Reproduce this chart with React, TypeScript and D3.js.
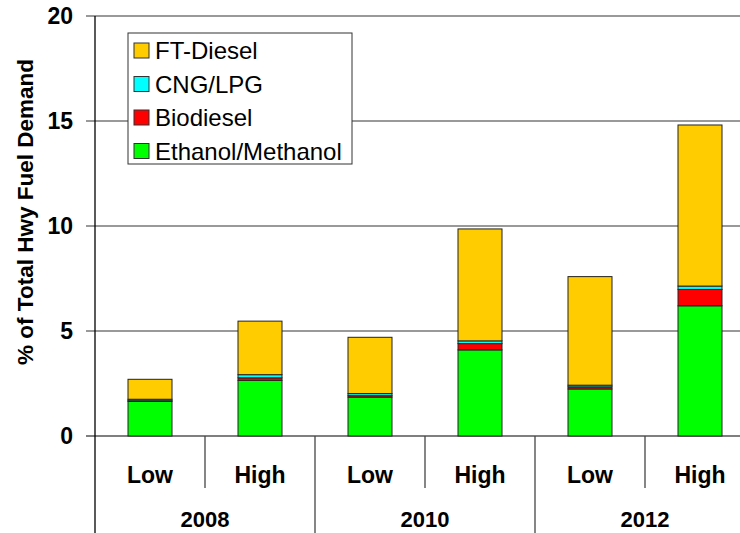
import React from "react";
import * as d3 from "d3";

const years = ["2008", "2010", "2012"];
const scenarios = ["Low", "High"];
const categories = ["2008 Low", "2008 High", "2010 Low", "2010 High", "2012 Low", "2012 High"];
const seriesNames = ["Ethanol/Methanol", "Biodiesel", "CNG/LPG", "FT-Diesel"];
const ethanol = [1.65, 2.65, 1.85, 4.1, 2.24, 6.2];
const biodiesel = [0.03, 0.12, 0.07, 0.3, 0.1, 0.78];
const cng = [0.07, 0.15, 0.1, 0.13, 0.08, 0.16];
const ftDiesel = [0.95, 2.55, 2.68, 5.33, 5.17, 7.67];
const colors = ["#00FF00", "#FF0000", "#00FFFF", "#FFCC00"];
const yTicks = [0, 5, 10, 15, 20];
const legendOrder = [3, 2, 1, 0];

export default function App() {
  const W = 740, H = 533;
  const left = 95, top = 16, bottom = 436;
  const x = d3.scaleBand<string>().domain(categories).range([left, left + 660]).paddingInner(0.6).paddingOuter(0.3);
  const y = d3.scaleLinear().domain([0, 20]).range([bottom, top]);
  const rows = categories.map((c, i) => ({ cat: c, e: ethanol[i], b: biodiesel[i], c2: cng[i], f: ftDiesel[i] }));
  const stack = d3.stack<any>().keys(["e", "b", "c2", "f"]);
  const layers = stack(rows);
  const step = x.step();
  const font = "Arial, 'Liberation Sans', sans-serif";
  return (
    <svg width={W} height={H} style={{ position: "absolute", left: 0, top: 0, background: "#fff" }} fontFamily={font}>
      {yTicks.map((t) => (
        <g key={t}>
          <line x1={left - 9} x2={W} y1={y(t)} y2={y(t)} stroke={t === 0 ? "#555" : "#777"} strokeWidth={1.3} />
          <text x={73} y={y(t)} dy="0.36em" textAnchor="end" fontSize={23} fontWeight="bold">{t}</text>
        </g>
      ))}
      {layers.map((layer, li) =>
        layer.map((d, i) => (
          <rect key={li + "-" + i} x={x(categories[i])} width={x.bandwidth()} y={y(d[1])} height={y(d[0]) - y(d[1])}
            fill={colors[li]} stroke="#222" strokeWidth={1} />
        ))
      )}
      <line x1={left} x2={left} y1={top} y2={H} stroke="#000" strokeWidth={1.3} />
      {years.map((yr, gi) => {
        const gx = left + gi * 2 * step;
        return (
          <g key={yr}>
            {gi > 0 && <line x1={gx} x2={gx} y1={bottom} y2={H} stroke="#444" strokeWidth={1.3} />}
            <line x1={gx + step} x2={gx + step} y1={bottom} y2={488} stroke="#444" strokeWidth={1.3} />
            {scenarios.map((s, si) => (
              <text key={s} x={gx + step * (si + 0.5)} y={483} textAnchor="middle" fontSize={23} fontWeight="bold">{s}</text>
            ))}
            <text x={gx + step} y={527} textAnchor="middle" fontSize={22} fontWeight="bold">{yr}</text>
          </g>
        );
      })}
      <text transform={`translate(33,212) rotate(-90)`} textAnchor="middle" fontSize={22.5} fontWeight="bold">% of Total Hwy Fuel Demand</text>
      <g>
        <rect x={128} y={33} width={224} height={131} fill="#fff" stroke="#333" strokeWidth={1} />
        {legendOrder.map((si, k) => (
          <g key={si} transform={`translate(134,${43 + k * 33.5})`}>
            <rect x={0} y={0} width={15} height={15} fill={colors[si]} stroke="#333" strokeWidth={1} />
            <text x={21} y={7.5} dy="0.36em" fontSize={24}>{seriesNames[si]}</text>
          </g>
        ))}
      </g>
    </svg>
  );
}
